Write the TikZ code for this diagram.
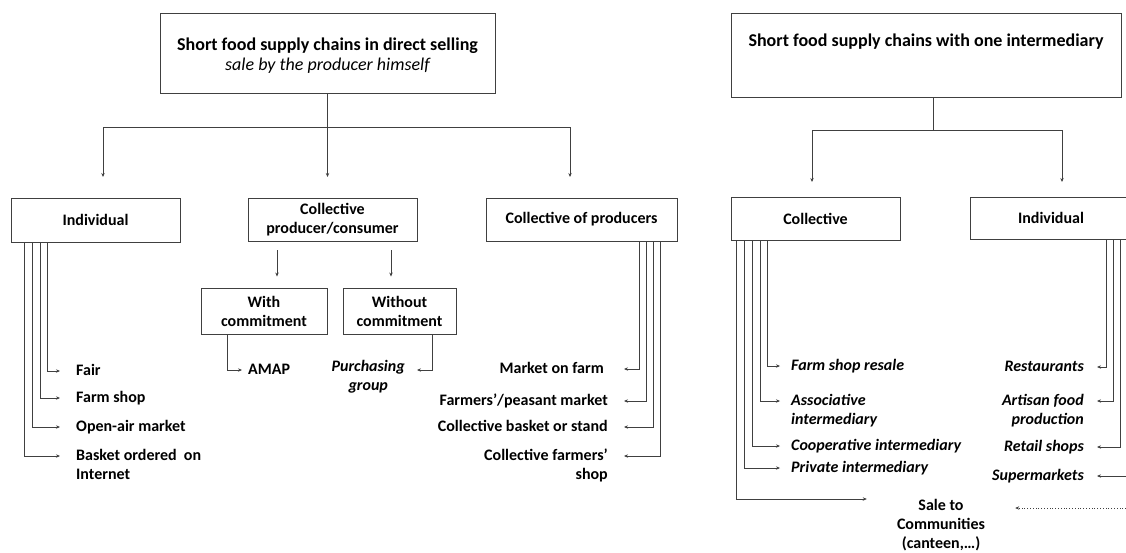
\documentclass[tikz,border=0pt]{standalone}
\usepackage{fontspec}
\setmainfont{Carlito}
\usepackage{tikz}
\usetikzlibrary{arrows.meta}
\definecolor{linec}{HTML}{404040}
\begin{document}
\begin{tikzpicture}[x=1pt,y=-1pt,
  every node/.style={font=\fontsize{16}{19}\selectfont\bfseries, text=black},
  box/.style={draw=linec, line width=0.9pt, align=center, inner sep=0pt},
  title/.style={box, font=\fontsize{18}{20}\selectfont\bfseries},
  leaf/.style={inner sep=0pt},
  leaf1/.style={inner sep=0pt, text height=12pt, text depth=4pt},
  it/.style={font=\fontsize{16}{19}\selectfont\bfseries\itshape},
  conn/.style={draw=linec, line width=0.9pt},
  arr/.style={conn, -{Stealth[length=4pt,width=3.4pt]}},
  dotarr/.style={draw=linec, line width=0.8pt, dotted, -{Stealth[length=4pt,width=3.4pt]}},
]
\useasboundingbox (0,0) rectangle (1126,552);
\clip (0,0) rectangle (1126,552);

% ---------- left: direct selling ----------
\node[title, minimum width=335pt, minimum height=80pt] (t1) at (327.5,53)
  {\rule{0pt}{17pt}Short food supply chains in direct selling\\{\mdseries\itshape sale by the producer himself}};

\node[box, minimum width=169pt, minimum height=44pt] (ind) at (95.5,220) {Individual};
\node[box, minimum width=169pt, minimum height=43pt] (cpc) at (332.5,219.5) {Collective\\producer/consumer};
\node[box, minimum width=191pt, minimum height=43pt] (cop) at (581.5,219.5) {Collective of producers};
\node[box, minimum width=126pt, minimum height=46pt] (with) at (264,311) {With\\commitment};
\node[box, minimum width=113pt, minimum height=46pt] (without) at (399.5,311) {Without\\commitment};

\coordinate (a1) at (103,177);
\coordinate (a2) at (327.5,177);
\coordinate (a3) at (570,177);
\draw[conn] (t1.south) -- ++(0,34) coordinate (j1);
\draw[arr] (j1) -| (a1);
\draw[arr] (j1) -| (a3);
\draw[arr] (t1.south) -- (a2);

\draw[arr] ([xshift=-55.5pt,yshift=-9pt]cpc.south) -- ([xshift=13pt,yshift=11pt]with.north);
\draw[arr] ([xshift=58.5pt,yshift=-9pt]cpc.south) -- ([xshift=-8.5pt,yshift=11pt]without.north);

% leaves of Individual
\node[leaf1, anchor=west] (fair) at (76,371) {Fair};
\node[leaf1, anchor=west] (farmshop) at (76,398) {Farm shop};
\node[leaf1, anchor=west] (openair) at (76,427) {Open-air market};
\node[leaf, align=left, anchor=north west] (basket) at (76,449) {Basket ordered\ \ on\\Internet};
\draw[arr] ([xshift=37pt]ind.south west) |- ([xshift=-16pt]fair.west);
\draw[arr] ([xshift=30pt]ind.south west) |- ([xshift=-16pt]farmshop.west);
\draw[arr] ([xshift=22pt]ind.south west) |- ([xshift=-16pt]openair.west);
\draw[arr] ([xshift=14pt]ind.south west) |- ([xshift=-16pt,yshift=-7pt]basket.north west);

% leaves of commitment boxes
\node[leaf1, anchor=west] (amap) at (248,370) {AMAP};
\draw[arr] ([xshift=-37pt]with.south) |- ([xshift=-6pt]amap.west);
\node[leaf, it, align=center, anchor=north east] (purch) at (405,360) {Purchasing\\group};
\draw[arr] ([xshift=32.5pt]without.south) |- ([xshift=12pt,yshift=-10pt]purch.north east);

% leaves of Collective of producers
\node[leaf1, anchor=east] (mof) at (604,369) {Market on farm};
\node[leaf1, anchor=east] (fpm) at (608,401) {Farmers’/peasant market};
\node[leaf1, anchor=east] (cbs) at (608,427) {Collective basket or stand};
\node[leaf, align=right, anchor=north east] (cfs) at (608,449) {Collective farmers’\\shop};
\draw[arr] ([xshift=-38pt]cop.south east) |- ([xshift=20pt]mof.east);
\draw[arr] ([xshift=-31pt]cop.south east) |- ([xshift=16pt]fpm.east);
\draw[arr] ([xshift=-24pt]cop.south east) |- ([xshift=16pt]cbs.east);
\draw[arr] ([xshift=-17pt]cop.south east) |- ([xshift=16pt,yshift=-7pt]cfs.north east);

% ---------- right: one intermediary ----------
\node[title, minimum width=390pt, minimum height=84pt] (t2) at (926,55)
  {Short food supply chains with one intermediary\\[10pt]~};
\node[box, minimum width=169pt, minimum height=43pt] (col) at (815.5,218.5) {Collective};
\node[box, minimum width=162pt, minimum height=42pt] (ind2) at (1051,218) {Individual};

\coordinate (b1) at (812,182);
\coordinate (b2) at (1062,182);
\draw[conn] ([xshift=7pt]t2.south) -- ++(0,33) coordinate (j2);
\draw[arr] (j2) -| (b1);
\draw[arr] (j2) -| (b2);

% leaves of Collective
\node[leaf1, it, anchor=west] (fsr) at (791,366) {Farm shop resale};
\node[leaf, it, align=left, anchor=north west] (assoc) at (791,394) {Associative\\intermediary};
\node[leaf1, it, anchor=west] (coop) at (791,446) {Cooperative intermediary};
\node[leaf1, it, anchor=west] (priv) at (791,468) {Private intermediary};
\node[leaf, align=center, anchor=north] (sale) at (941,499) {Sale to\\Communities\\(canteen,…)};
\draw[arr] ([xshift=37pt]col.south west) |- ([xshift=-11pt]fsr.west);
\draw[arr] ([xshift=30pt]col.south west) |- ([xshift=-11pt,yshift=-7pt]assoc.north west);
\draw[arr] ([xshift=22pt]col.south west) |- ([xshift=-11pt]coop.west);
\draw[arr] ([xshift=14pt]col.south west) |- ([xshift=-11pt]priv.west);
\draw[arr] ([xshift=6pt]col.south west) |- ([xshift=-30pt]sale.north west);

% leaves of Individual (right)
\node[leaf1, it, anchor=east] (rest) at (1084,367) {Restaurants};
\node[leaf, it, align=right, anchor=north east] (artisan) at (1084,394) {Artisan food\\production};
\node[leaf1, it, anchor=east] (retail) at (1084,447) {Retail shops};
\node[leaf1, it, anchor=east] (super) at (1084,476) {Supermarkets};
\draw[arr] ([xshift=-26pt]ind2.south east) |- ([xshift=13pt]rest.east);
\draw[arr] ([xshift=-19pt]ind2.south east) |- ([xshift=13pt,yshift=-7pt]artisan.north east);
\draw[arr] ([xshift=-12pt]ind2.south east) |- ([xshift=13pt]retail.east);
\draw[arr] ([xshift=-5pt]ind2.south east) |- ([xshift=13pt]super.east);

\coordinate (offr) at (1140,508);
\draw[dotarr] (offr) -- ([xshift=30pt,yshift=-9pt]sale.north east);
\end{tikzpicture}
\end{document}
